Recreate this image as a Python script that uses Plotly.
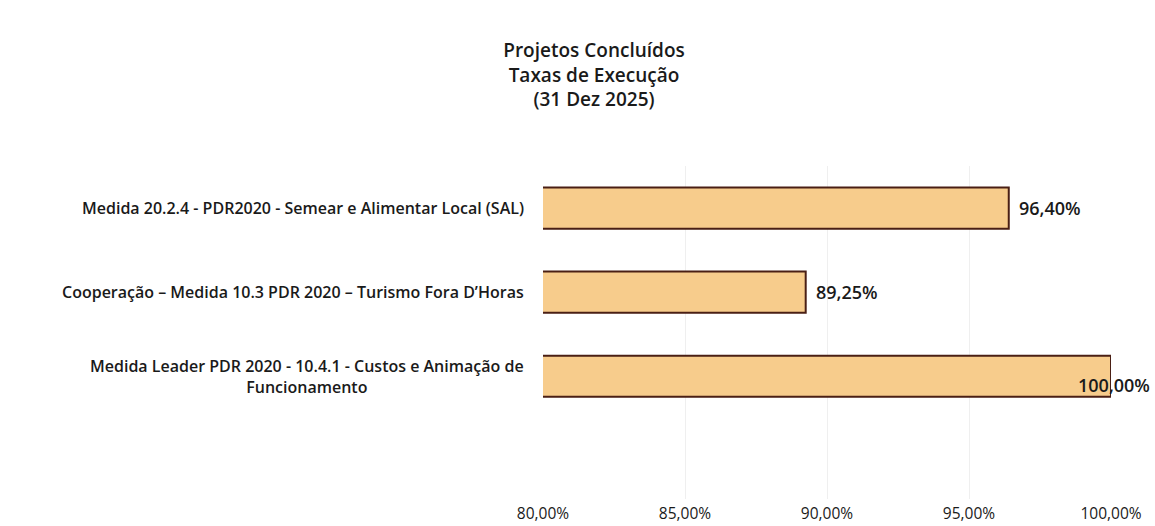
import plotly.graph_objects as go

categories = [
    "Medida Leader PDR 2020 - 10.4.1 - Custos e Animação de<br>Funcionamento",
    "Cooperação – Medida 10.3 PDR 2020 – Turismo Fora D’Horas",
    "Medida 20.2.4 - PDR2020 - Semear e Alimentar Local (SAL)",
]
values = [100.00, 89.25, 96.40]
value_labels = ["100,00%", "89,25%", "96,40%"]
tick_vals = [80, 85, 90, 95, 100]
tick_text = ["80,00%", "85,00%", "90,00%", "95,00%", "100,00%"]
title_lines = ["Projetos Concluídos", "Taxas de Execução", "(31 Dez 2025)"]

FONT = "Open Sans"
TXT = "#1a1a1a"

fig = go.Figure()
fig.add_trace(go.Bar(
    y=list(range(len(categories))),
    x=values,
    base=0,
    orientation="h",
    width=0.49,
    marker=dict(color="#F7CC8C", line=dict(color="#4a1f14", width=2)),
    hoverinfo="skip",
))

annotations = []
for i, (cat, v, lab) in enumerate(zip(categories, values, value_labels)):
    annotations.append(dict(
        x=0, xref="paper", y=i, yref="y", xanchor="right", yanchor="middle",
        text=cat, showarrow=False, align="center", xshift=-17,
        font=dict(family=FONT, size=16, color=TXT, weight=600),
    ))
    last = v >= 100
    annotations.append(dict(
        x=v, xref="x", y=i, yref="y", xanchor="left", yanchor="middle",
        text=lab, showarrow=False,
        xshift=-35 if last else 8, yshift=-9 if last else 0,
        font=dict(family=FONT, size=18, color=TXT, weight=600),
    ))

fig.update_layout(
    width=1155, height=526,
    margin=dict(l=543, r=44, t=166, b=27),
    paper_bgcolor="white", plot_bgcolor="white",
    showlegend=False,
    title=dict(
        text="<br>".join(title_lines),
        x=594 / 1155, xref="container", xanchor="center",
        y=1 - 57 / 526, yref="container", yanchor="top",
        font=dict(family=FONT, size=19, color=TXT, weight=600),
    ),
    xaxis=dict(
        range=[80, 100], tickvals=tick_vals, ticktext=tick_text,
        showgrid=True, gridcolor="#efefef", gridwidth=1,
        zeroline=False, showline=False, ticks="", automargin=False,
        tickfont=dict(family=FONT, size=15.5, color=TXT, weight=500),
    ),
    yaxis=dict(
        range=[-1.46, 2.5], showticklabels=False, showgrid=False,
        zeroline=False, showline=False, ticks="", automargin=False,
    ),
    annotations=annotations,
)
fig.update_xaxes(ticklabelstandoff=3)

fig.write_html("out.html")
